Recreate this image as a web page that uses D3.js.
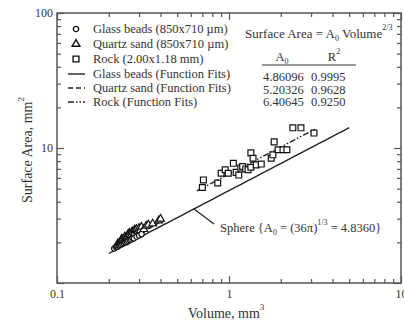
<!DOCTYPE html>
<html>
<head>
<meta charset="utf-8">
<script src="https://cdn.jsdelivr.net/npm/d3@7"></script>
<style>
  html, body { margin: 0; padding: 0; background: #fff; }
  svg { display: block; font-family: "Liberation Serif", "DejaVu Serif", serif; }
  .axis line { stroke: #555; stroke-width: 1.2; }
  .axis text { font-family: "Liberation Serif", serif; font-size: 12px; fill: #333; }
</style>
</head>
<body>
<div id="chart"></div>
<script>
// ---- data ----
// glass beads (volume mm^3, surface area mm^2)
const glassV  = [0.215, 0.22, 0.222, 0.225, 0.228, 0.23, 0.233, 0.235, 0.238, 0.24, 0.243, 0.245, 0.248, 0.25, 0.253, 0.255, 0.258, 0.26, 0.265, 0.27, 0.275, 0.28, 0.29, 0.30, 0.31];
const glassSA = [1.80, 1.84, 1.87, 1.86, 1.90, 1.90, 1.94, 1.92, 1.97, 1.95, 2.00, 1.98, 2.03, 2.00, 2.06, 2.02, 2.08, 2.05, 2.08, 2.10, 2.15, 2.14, 2.20, 2.25, 2.30];
// quartz sand
const quartzV  = [0.225, 0.23, 0.235, 0.238, 0.24, 0.245, 0.248, 0.25, 0.253, 0.255, 0.258, 0.26, 0.263, 0.265, 0.268, 0.27, 0.273, 0.275, 0.28, 0.283, 0.285, 0.29, 0.295, 0.30, 0.305, 0.31, 0.32, 0.33, 0.34, 0.36, 0.39, 0.40];
const quartzSA = [1.95, 1.98, 2.05, 2.12, 2.10, 2.00, 2.20, 2.15, 2.08, 2.20, 2.28, 2.10, 2.35, 2.30, 2.18, 2.25, 2.40, 2.40, 2.30, 2.48, 2.45, 2.50, 2.40, 2.55, 2.45, 2.60, 2.50, 2.65, 2.70, 2.75, 2.90, 2.98];
// rock
const rockV  = [0.70, 0.71, 0.86, 0.90, 0.95, 0.99, 1.06, 1.10, 1.14, 1.17, 1.20, 1.25, 1.29, 1.34, 1.44, 1.54, 1.34, 1.38, 1.76, 1.80, 1.83, 1.93, 2.06, 2.17, 2.35, 2.62, 3.12];
const rockSA = [5.1, 5.8, 5.5, 6.5, 6.9, 6.5, 7.7, 6.6, 6.3, 7.1, 7.3, 7.0, 6.9, 7.2, 7.5, 7.6, 9.2, 8.4, 8.4, 8.9, 11.1, 9.7, 9.7, 9.7, 14.1, 14.1, 12.9];

// fitted coefficients: SA = A0 * V^(2/3)
const fitA0    = [4.86096, 5.20326, 6.40645];
const fitR2    = ['0.9995', '0.9628', '0.9250'];
const fitRange = [[0.21, 0.31], [0.23, 0.40], [0.65, 3.2]];
const sphereA0 = 4.8360;
const sphereRange = [0.2, 5];

const legendLabels = [
  'Glass beads (850x710 \u00b5m)',
  'Quartz sand (850x710 \u00b5m)',
  'Rock (2.00x1.18 mm)',
  'Glass beads (Function Fits)',
  'Quartz sand (Function Fits)',
  'Rock (Function Fits)'
];

const W = 404, H = 321;
const L = 57, R = 401, T = 13, B = 283;

const svg = d3.select('#chart').append('svg')
  .attr('width', W).attr('height', H);

const x = d3.scaleLog().domain([0.1, 10]).range([L, R]);
const y = d3.scaleLog().domain([1, 100]).range([B, T]);

const isMajor = v => Math.abs(Math.log10(v) - Math.round(Math.log10(v))) < 1e-6;
const xt = x.ticks(), yt = y.ticks();
const fmt = v => isMajor(v) ? String(+v.toPrecision(3)) : '';
const fmtY = v => (isMajor(v) && v > 1) ? String(v) : '';

function styleTicks(g) {
  g.select('.domain').remove();
}

// bottom
svg.append('g').attr('class', 'axis').attr('transform', `translate(0,${B})`)
  .call(d3.axisBottom(x).tickValues(xt).tickFormat(fmt).tickSize(-4).tickPadding(6))
  .call(styleTicks)
  .call(g => g.selectAll('.tick line').filter(isMajor).attr('y2', -7));
// top
svg.append('g').attr('class', 'axis').attr('transform', `translate(0,${T})`)
  .call(d3.axisTop(x).tickValues(xt).tickFormat('').tickSize(-4))
  .call(styleTicks)
  .call(g => g.selectAll('.tick line').filter(isMajor).attr('y2', 7));
// left
svg.append('g').attr('class', 'axis').attr('transform', `translate(${L},0)`)
  .call(d3.axisLeft(y).tickValues(yt).tickFormat(fmtY).tickSize(-4).tickPadding(4))
  .call(styleTicks)
  .call(g => g.selectAll('.tick line').filter(isMajor).attr('x2', 7));
// right
svg.append('g').attr('class', 'axis').attr('transform', `translate(${R},0)`)
  .call(d3.axisRight(y).tickValues(yt).tickFormat('').tickSize(-4))
  .call(styleTicks)
  .call(g => g.selectAll('.tick line').filter(isMajor).attr('x2', -7));

// frame
svg.append('rect')
  .attr('x', L).attr('y', T).attr('width', R - L).attr('height', B - T)
  .attr('fill', 'none').attr('stroke', '#555').attr('stroke-width', 1.5);

// axis titles
const xTitle = svg.append('text')
  .attr('x', 226).attr('y', 318).attr('text-anchor', 'middle')
  .attr('font-size', 14).attr('fill', '#333');
xTitle.append('tspan').text('Volume, mm');
xTitle.append('tspan').attr('dy', -8).attr('font-size', 9).text('3');

const yTitle = svg.append('text')
  .attr('transform', 'translate(32,150) rotate(-90)')
  .attr('text-anchor', 'middle').attr('font-size', 14).attr('fill', '#333');
yTitle.append('tspan').text('Surface Area, mm');
yTitle.append('tspan').attr('dy', -8).attr('font-size', 9).text('2');

// fit curves
const dashes = [null, '5,3', '6,2,1.5,2,1.5,2'];
const curve = (a0, range) => d3.range(0, 41).map(i => {
  const v = range[0] * Math.pow(range[1] / range[0], i / 40);
  return [v, a0 * Math.pow(v, 2 / 3)];
});
const line = d3.line().x(d => x(d[0])).y(d => y(d[1]));

svg.append('path')
  .attr('d', line(curve(sphereA0, sphereRange)))
  .attr('fill', 'none').attr('stroke', '#222').attr('stroke-width', 1.4);

fitA0.forEach((a0, i) => {
  svg.append('path')
    .attr('d', line(curve(a0, fitRange[i])))
    .attr('fill', 'none').attr('stroke', '#222').attr('stroke-width', 1.4)
    .attr('stroke-dasharray', dashes[i]);
});

// markers
const sym = {
  circle: d3.symbol().type(d3.symbolCircle).size(22),
  triangle: d3.symbol().type(d3.symbolTriangle).size(26),
  square: d3.symbol().type(d3.symbolSquare).size(34)
};
function drawPts(V, SA, s) {
  svg.append('g').selectAll('path')
    .data(V.map((v, i) => [v, SA[i]]))
    .join('path')
    .attr('d', sym[s]())
    .attr('transform', d => `translate(${x(d[0])},${y(d[1])})`)
    .attr('fill', '#fff').attr('stroke', '#111').attr('stroke-width', 1.2);
}
drawPts(quartzV, quartzSA, 'triangle');
drawPts(glassV, glassSA, 'circle');
drawPts(rockV, rockSA, 'square');

// legend
const legY = [29, 44, 59, 74, 88, 102];
const leg = svg.append('g');
['circle', 'triangle', 'square'].forEach((s, i) => {
  leg.append('path').attr('d', sym[s]())
    .attr('transform', `translate(76,${legY[i]})`)
    .attr('fill', '#fff').attr('stroke', '#111').attr('stroke-width', 1.4);
});
[3, 4, 5].forEach((k, i) => {
  leg.append('line').attr('x1', 68).attr('x2', 85).attr('y1', legY[k]).attr('y2', legY[k])
    .attr('stroke', '#222').attr('stroke-width', 1.4).attr('stroke-dasharray', dashes[i]);
});
legendLabels.forEach((t, i) => {
  leg.append('text').attr('x', 93).attr('y', legY[i] + 4)
    .attr('font-size', 12.5).attr('fill', '#333').text(t);
});

// equation + table
const eq = svg.append('text').attr('x', 245).attr('y', 38).attr('font-size', 13).attr('fill', '#333');
eq.append('tspan').text('Surface Area = A');
eq.append('tspan').attr('dy', 3).attr('font-size', 8).text('0');
eq.append('tspan').attr('dy', -3).text(' Volume');
eq.append('tspan').attr('dy', -8).attr('font-size', 8).text('2/3');

const h1 = svg.append('text').attr('x', 282).attr('y', 61).attr('text-anchor', 'middle').attr('font-size', 12.5).attr('fill', '#333');
h1.append('tspan').text('A');
h1.append('tspan').attr('dy', 3).attr('font-size', 8).text('0');
const h2 = svg.append('text').attr('x', 334).attr('y', 61).attr('text-anchor', 'middle').attr('font-size', 12.5).attr('fill', '#333');
h2.append('tspan').text('R');
h2.append('tspan').attr('dy', -7).attr('font-size', 8).text('2');
svg.append('line').attr('x1', 262).attr('x2', 356).attr('y1', 65).attr('y2', 65)
  .attr('stroke', '#333').attr('stroke-width', 1.2);
fitA0.forEach((a0, i) => {
  svg.append('text').attr('x', 263).attr('y', 81 + i * 12.5).attr('font-size', 12.5).attr('fill', '#333')
    .text(a0.toFixed(5));
  svg.append('text').attr('x', 311).attr('y', 81 + i * 12.5).attr('font-size', 12.5).attr('fill', '#333')
    .text(fitR2[i]);
});

// sphere annotation
const pv = 0.626;
svg.append('line')
  .attr('x1', x(pv)).attr('y1', y(sphereA0 * Math.pow(pv, 2 / 3)))
  .attr('x2', x(pv) + 20).attr('y2', y(sphereA0 * Math.pow(pv, 2 / 3)) + 15)
  .attr('stroke', '#222').attr('stroke-width', 1.2);
const sp = svg.append('text').attr('x', 220).attr('y', 232).attr('font-size', 12.5).attr('fill', '#333');
sp.append('tspan').text('Sphere {A');
sp.append('tspan').attr('dy', 3).attr('font-size', 8).text('0');
sp.append('tspan').attr('dy', -3).text(' = (36\u03c0)');
sp.append('tspan').attr('dy', -7).attr('font-size', 8).text('1/3');
sp.append('tspan').attr('dy', 7).text(' = 4.8360}');
</script>
</body>
</html>
